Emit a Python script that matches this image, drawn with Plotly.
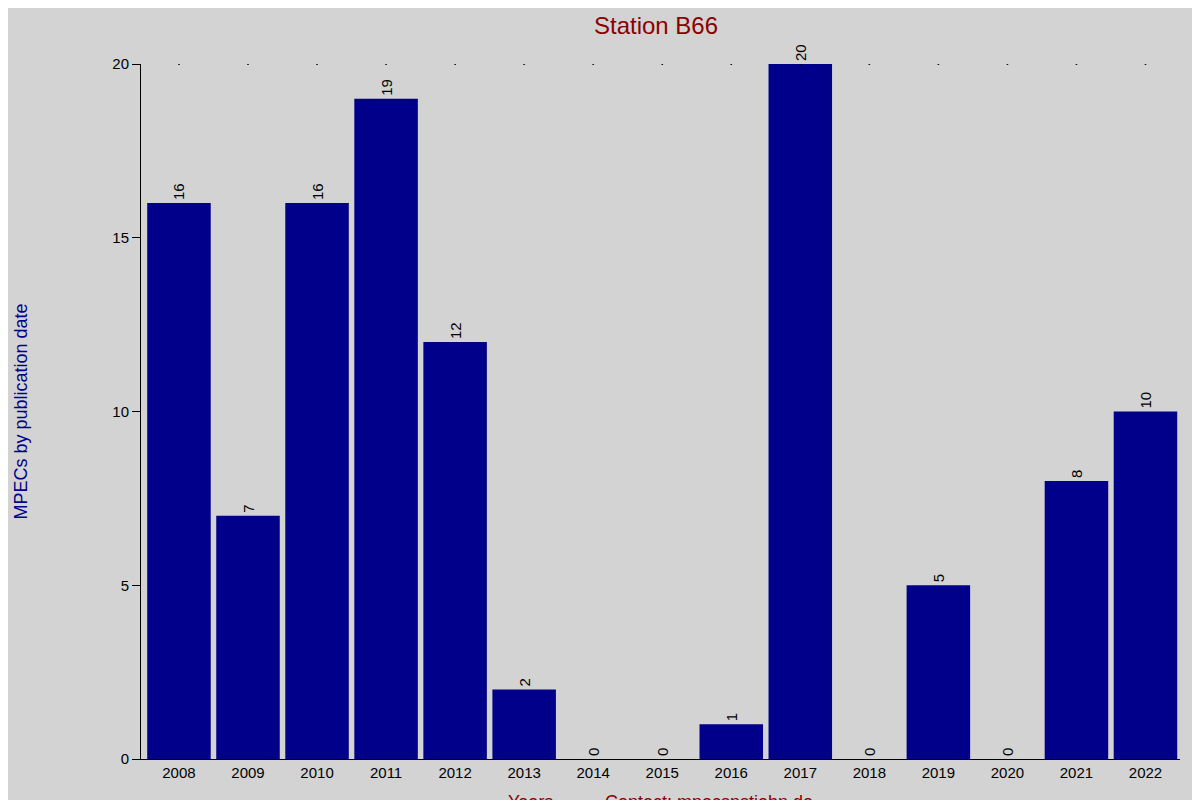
import plotly.graph_objects as go

years = ["2008", "2009", "2010", "2011", "2012", "2013", "2014", "2015",
         "2016", "2017", "2018", "2019", "2020", "2021", "2022"]
counts = [16, 7, 16, 19, 12, 2, 0, 0, 1, 20, 0, 5, 0, 8, 10]

fig = go.Figure()
fig.add_trace(go.Bar(
    x=years, y=counts, marker=dict(color="#00008B", line=dict(width=0)),
    text=[str(c) for c in counts], textposition="outside", textangle=-90,
    textfont=dict(family="Liberation Sans, Arial", size=15, color="black"),
    cliponaxis=False,
))
# small dots along the top grid line
fig.add_trace(go.Scatter(
    x=years, y=[20] * len(years), mode="markers",
    marker=dict(size=2, color="black"), hoverinfo="skip",
))

fig.update_layout(
    paper_bgcolor="#D3D3D3", plot_bgcolor="#D3D3D3",
    margin=dict(l=125, r=28, t=56, b=49),
    showlegend=False, bargap=0.08,
    font=dict(family="Liberation Sans, Arial", size=15, color="black"),
    title=dict(text="Station B66", x=0.54, xanchor="center", y=0.978, yanchor="middle",
               font=dict(size=24, color="#8B0000")),
    xaxis=dict(showline=True, linecolor="black", linewidth=1, showgrid=False,
               ticks="", range=[-0.55, 14.5], tickfont=dict(size=15)),
    yaxis=dict(range=[0, 20], showline=True, linecolor="black", linewidth=1,
               ticks="outside", ticklen=8, tickcolor="black", showgrid=False,
               zeroline=False, dtick=5, tickfont=dict(size=15),
               title=dict(text="MPECs by publication date", standoff=80,
                          font=dict(size=18, color="#00008B"))),
    annotations=[
        dict(text="Years", xref="paper", yref="paper", x=0.375, y=-0.045,
             xanchor="center", yanchor="top", showarrow=False,
             font=dict(size=18, color="#8B0000")),
        dict(text="Contact: mpecspstjahn.de", xref="paper", yref="paper", x=0.547, y=-0.045,
             xanchor="center", yanchor="top", showarrow=False,
             font=dict(size=18, color="#8B0000")),
    ],
)

fig.write_html("out.html", default_width="100vw", default_height="100vh",
               include_plotlyjs=True)
